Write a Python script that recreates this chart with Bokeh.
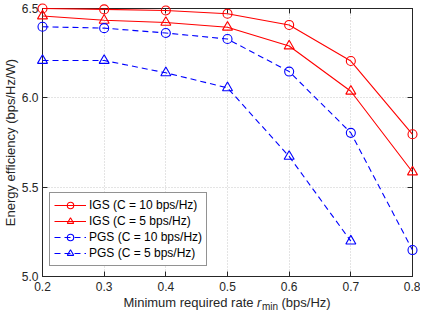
import math
from bokeh.plotting import figure
from bokeh.models import (Range1d, LinearAxis, FixedTicker, PrintfTickFormatter,
                          CustomJSTickFormatter, Legend, LegendItem)
from bokeh.core.properties import value
from bokeh.embed import file_html
from bokeh.resources import INLINE

# ---- data ----
rate = [0.2, 0.3, 0.4, 0.5, 0.6, 0.7, 0.8]
igs_c10 = [6.500, 6.495, 6.489, 6.471, 6.408, 6.206, 5.796]
igs_c5 = [6.458, 6.434, 6.422, 6.395, 6.290, 6.037, 5.585]
pgs_c10 = [6.398, 6.390, 6.363, 6.329, 6.147, 5.804, 5.148]
rate_pgs5 = [0.2, 0.3, 0.4, 0.5, 0.6, 0.7]
pgs_c5 = [6.209, 6.209, 6.140, 6.056, 5.672, 5.198]

x_ticks = [0.2, 0.3, 0.4, 0.5, 0.6, 0.7, 0.8]
y_ticks = [5.0, 5.5, 6.0, 6.5]

labels = ["IGS (C = 10 bps/Hz)", "IGS (C = 5 bps/Hz)",
          "PGS (C = 10 bps/Hz)", "PGS (C = 5 bps/Hz)"]
y_label = "Energy efficiency (bps/Hz/W)"
x_label_parts = ["Minimum required rate", "r", "min", "(bps/Hz)"]

FONT = "Liberation Sans"
RED = "#ff0000"
BLUE = "#0000ff"
DARK = "#262626"

p = figure(width=420, height=311, output_backend="svg", toolbar_location=None,
           x_range=Range1d(0.2, 0.8), y_range=Range1d(5.0, 6.5),
           min_border_left=42, min_border_right=8, min_border_top=8,
           min_border_bottom=35, background_fill_color="white",
           border_fill_color="white")
p.outline_line_color = DARK
p.outline_line_width = 1

for ax in p.axis:
    ax.axis_line_color = DARK
    ax.major_tick_line_color = DARK
    ax.major_tick_in = 5
    ax.major_tick_out = 0
    ax.minor_tick_line_color = None
    ax.major_label_text_font = FONT
    ax.major_label_text_font_size = "12px"
    ax.major_label_text_color = DARK
    ax.formatter = PrintfTickFormatter(format="%.1f")
p.xaxis.ticker = FixedTicker(ticks=x_ticks)
p.yaxis.ticker = FixedTicker(ticks=y_ticks)
p.xaxis.major_label_standoff = 5
p.yaxis.major_label_standoff = 4

# top / right axes: ticks only
blank = CustomJSTickFormatter(code="return ''")
top = LinearAxis(ticker=FixedTicker(ticks=x_ticks), formatter=blank,
                 major_label_standoff=0, major_tick_in=5, major_tick_out=0,
                 minor_tick_line_color=None, axis_line_color=DARK,
                 major_tick_line_color=DARK, major_label_text_font_size="12px")
right = LinearAxis(ticker=FixedTicker(ticks=y_ticks), formatter=blank,
                   major_label_standoff=0, major_tick_in=5, major_tick_out=0,
                   minor_tick_line_color=None, axis_line_color=DARK,
                   major_tick_line_color=DARK, major_label_text_font_size="12px")
p.add_layout(top, "above")
p.add_layout(right, "right")

p.xgrid.ticker = FixedTicker(ticks=x_ticks)
p.ygrid.ticker = FixedTicker(ticks=y_ticks)
p.grid.grid_line_color = "#c8c8c8"
p.grid.grid_line_dash = "1 2"
p.grid.grid_line_width = 1

series = [
    (rate, igs_c10, RED, "solid", "circle"),
    (rate, igs_c5, RED, "solid", "triangle"),
    (rate, pgs_c10, BLUE, "6 4", "circle"),
    (rate_pgs5, pgs_c5, BLUE, "6 4", "triangle"),
]
items = []
for (xs, ys, col, dash, mk), lab in zip(series, labels):
    l = p.line(xs, ys, line_color=col, line_width=1.1, line_dash=dash, level="overlay")
    s = p.scatter(xs, ys, marker=mk, size=9 if mk == "circle" else 10,
                  line_color=col, line_width=1.1, fill_color=None, level="overlay")
    items.append(LegendItem(label=lab, renderers=[l, s]))

legend = Legend(items=items, location=(7, 10), label_text_font=FONT,
                label_text_font_size="12px", label_text_color="#000000",
                label_height=16, glyph_height=16, glyph_width=32,
                label_standoff=3, spacing=0, padding=4, margin=0,
                border_line_color=DARK, border_line_width=1,
                background_fill_color="white", background_fill_alpha=1.0)
p.add_layout(legend, "center")

# y axis label (text glyph outside the frame, unclipped at overlay level)
p.text(x=[0.2], y=[5.75], text=[y_label], x_offset=-40, angle=math.pi / 2,
       text_align="center", text_baseline="top", text_font=value(FONT),
       text_font_size="13px", text_color=DARK, level="overlay")

# x axis label with italic r and subscript "min"
base = 26
p.text(x=[0.5], y=[5.0], text=[x_label_parts[0]], x_offset=26, y_offset=base,
       text_align="right", text_baseline="alphabetic", text_font=value(FONT),
       text_font_size="13px", text_color=DARK, level="overlay")
p.text(x=[0.5], y=[5.0], text=[x_label_parts[1]], x_offset=29.5, y_offset=base,
       text_align="left", text_baseline="alphabetic", text_font=value(FONT),
       text_font_style="italic", text_font_size="13px", text_color=DARK, level="overlay")
p.text(x=[0.5], y=[5.0], text=[x_label_parts[2]], x_offset=34.5, y_offset=base + 3.5,
       text_align="left", text_baseline="alphabetic", text_font=value(FONT),
       text_font_size="10px", text_color=DARK, level="overlay")
p.text(x=[0.5], y=[5.0], text=[x_label_parts[3]], x_offset=54, y_offset=base,
       text_align="left", text_baseline="alphabetic", text_font=value(FONT),
       text_font_size="13px", text_color=DARK, level="overlay")

open("out.html", "w").write(file_html(p, INLINE))
